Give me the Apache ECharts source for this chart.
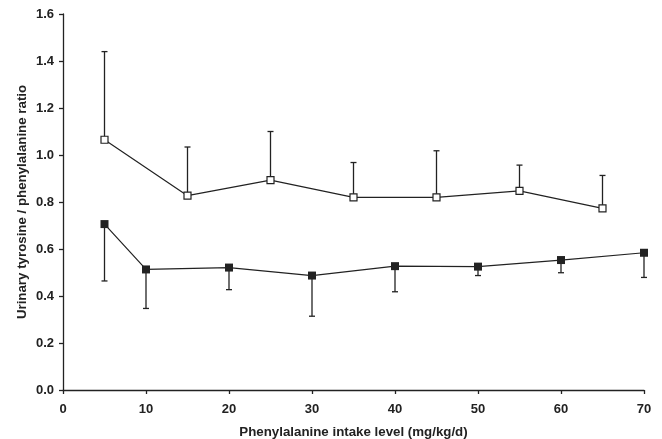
<!DOCTYPE html>
<html><head><meta charset="utf-8">
<script src="https://cdn.jsdelivr.net/npm/echarts@6/dist/echarts.min.js"></script>
<style>html,body{margin:0;padding:0;background:#fff}#c{width:662px;height:439px}</style>
</head><body><div id="c"></div>
<script>
var openX = [5, 15, 25, 35, 45, 55, 65];
var openY = [1.065, 0.827, 0.893, 0.820, 0.820, 0.847, 0.773];
var openErrTop = [1.44, 1.034, 1.10, 0.968, 1.018, 0.957, 0.913];
var filledX = [5, 10, 20, 30, 40, 50, 60, 70];
var filledY = [0.706, 0.513, 0.521, 0.487, 0.527, 0.525, 0.553, 0.584];
var filledErrBottom = [0.464, 0.347, 0.427, 0.314, 0.418, 0.487, 0.499, 0.479];
var xTicks = [0, 10, 20, 30, 40, 50, 60, 70];
var yTicks = [0, 0.2, 0.4, 0.6, 0.8, 1.0, 1.2, 1.4, 1.6];

function pairs(xs, ys) { return xs.map(function (x, i) { return [x, ys[i]]; }); }
function errData(xs, ys, es) { return xs.map(function (x, i) { return [x, ys[i], es[i]]; }); }

function errRender(params, api) {
  var p1 = api.coord([api.value(0), api.value(1)]);
  var p2 = api.coord([api.value(0), api.value(2)]);
  var w = 3;
  var st = { stroke: '#222', lineWidth: 1.3 };
  return { type: 'group', children: [
    { type: 'line', shape: { x1: p1[0], y1: p1[1], x2: p2[0], y2: p2[1] }, style: st },
    { type: 'line', shape: { x1: p2[0] - w, y1: p2[1], x2: p2[0] + w, y2: p2[1] }, style: st }
  ]};
}

var font = 'Liberation Sans, Arial, sans-serif';
var chart = echarts.init(document.getElementById('c'), null, { renderer: 'canvas' });
chart.setOption({
  animation: false,
  backgroundColor: '#fff',
  grid: { left: 63, right: 18, top: 14, bottom: 49, containLabel: false, outerBoundsMode: 'none' },
  xAxis: {
    type: 'value', min: 0, max: 70, interval: 10,
    name: 'Phenylalanine intake level (mg/kg/d)', nameLocation: 'middle', nameGap: 36, nameMoveOverlap: false,
    nameTextStyle: { fontFamily: font, fontWeight: 'bold', fontSize: 13.3, color: '#222' },
    axisLine: { lineStyle: { color: '#222', width: 1.3 } },
    axisTick: { show: true, inside: false, length: 4, lineStyle: { color: '#222', width: 1.3 } },
    axisLabel: { fontFamily: font, fontWeight: 'bold', fontSize: 13, color: '#222', margin: 13,
      formatter: function (v) { return xTicks.indexOf(v) >= 0 ? String(v) : ''; } },
    splitLine: { show: false }
  },
  yAxis: {
    type: 'value', min: 0, max: 1.6, interval: 0.2,
    name: 'Urinary tyrosine / phenylalanine ratio', nameLocation: 'middle', nameGap: 34, nameMoveOverlap: false,
    nameTextStyle: { fontFamily: font, fontWeight: 'bold', fontSize: 13.3, color: '#222' },
    axisLine: { show: true, lineStyle: { color: '#222', width: 1.3 } },
    axisTick: { show: true, inside: false, length: 4, lineStyle: { color: '#222', width: 1.3 } },
    axisLabel: { fontFamily: font, fontWeight: 'bold', fontSize: 13, color: '#222', margin: 9,
      formatter: function (v) { return v.toFixed(1); } },
    splitLine: { show: false }
  },
  series: [
    { type: 'custom', renderItem: errRender, data: errData(openX, openY, openErrTop), z: 1, silent: true },
    { type: 'custom', renderItem: errRender, data: errData(filledX, filledY, filledErrBottom), z: 1, silent: true },
    { type: 'line', data: pairs(openX, openY), symbol: 'rect', symbolSize: 7,
      lineStyle: { color: '#222', width: 1.2 },
      itemStyle: { color: '#fff', borderColor: '#222', borderWidth: 1.2 }, z: 3 },
    { type: 'line', data: pairs(filledX, filledY), symbol: 'rect', symbolSize: 8,
      lineStyle: { color: '#222', width: 1.2 },
      itemStyle: { color: '#222', borderColor: '#222', borderWidth: 0 }, z: 3 }
  ]
});
</script></body></html>
